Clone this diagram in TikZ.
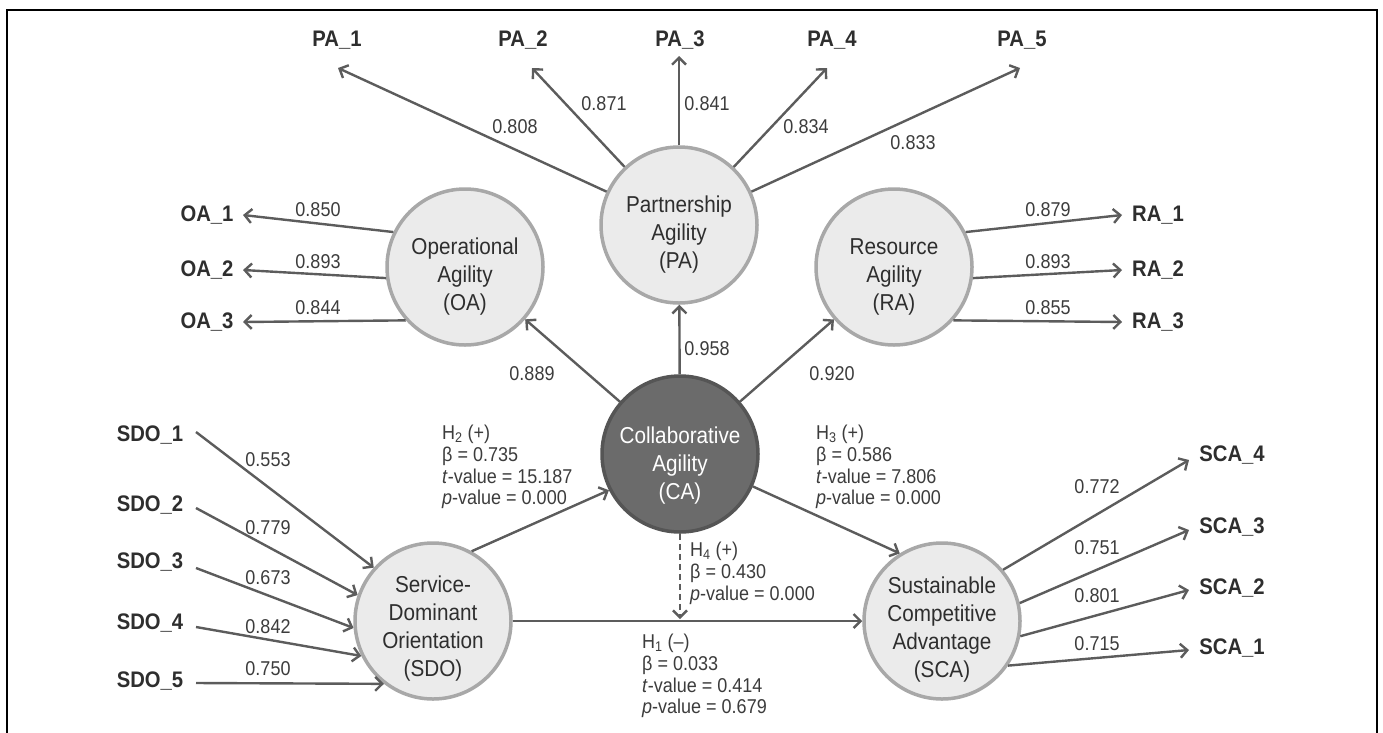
\documentclass[tikz,border=0pt]{standalone}
\usepackage{fontspec}
\setmainfont{Liberation Sans}[FakeStretch=0.9]
\usetikzlibrary{arrows.meta}
\definecolor{lnc}{HTML}{5C5C5C}
\definecolor{cfill}{HTML}{EBEBEB}
\definecolor{cborder}{HTML}{A8A8A8}
\definecolor{cafill}{HTML}{6B6B6B}
\definecolor{caborder}{HTML}{555555}
\definecolor{txt}{HTML}{2E2E2E}
\definecolor{numc}{HTML}{3C3C3C}
\tikzset{
  conn/.style={draw=lnc, line width=2.4pt, -{Straight Barb[length=7pt,width=14pt]}},
  dconn/.style={conn, dash pattern=on 6pt off 4pt},
  lat/.style={circle, draw=cborder, fill=cfill, line width=3.5pt, minimum size=156pt, inner sep=0pt},
  latca/.style={lat, draw=caborder, fill=cafill},
  ctext/.style={align=center, text=txt, font=\fontsize{23}{28}\selectfont},
  ind/.style={font=\fontsize{22.5}{25}\selectfont\bfseries, text=txt, inner sep=0pt},
  num/.style={font=\fontsize{20}{23}\selectfont, text=numc, inner sep=0pt},
  hyp/.style={font=\fontsize{20}{21.7}\selectfont, text=numc, align=left, inner sep=0pt, anchor=north west}
}
\begin{document}
\begin{tikzpicture}[x=1pt,y=-1pt]
\useasboundingbox (0,0) rectangle (1383,732);
% frame
\draw[line width=2.5pt] (7,750) -- (7,10) -- (1377,10) -- (1377,750);

% latent variables
\node[lat, label={[ctext,yshift=-10pt,name=PAt]center:{Partnership\\Agility\\(PA)}}] (PA) at (679,225) {};
\node[lat, label={[ctext,yshift=-10pt,name=OAt]center:{Operational\\Agility\\(OA)}}] (OA) at (465,267) {};
\node[lat, label={[ctext,yshift=-10pt,name=RAt]center:{Resource\\Agility\\(RA)}}] (RA) at (894,267) {};
\node[latca, label={[ctext,yshift=-12pt,text=white,name=CAt]center:{Collaborative\\Agility\\(CA)}}] (CA) at (680,454) {};
\node[lat, label={[ctext,yshift=-8pt,name=SDOt]center:{Service-\\Dominant\\Orientation\\(SDO)}}] (SDO) at (433,621) {};
\node[lat, label={[ctext,yshift=-9pt,name=SCAt]center:{Sustainable\\Competitive\\Advantage\\(SCA)}}] (SCA) at (942,621) {};

% PA indicators
\node[ind] (pa1) at (337,40) {PA\_1};
\node[ind] (pa2) at (523,40) {PA\_2};
\node[ind] (pa3) at (680,40) {PA\_3};
\node[ind] (pa4) at (832,40) {PA\_4};
\node[ind] (pa5) at (1022,40) {PA\_5};
\coordinate (p1t) at (338,68);
\coordinate (p2t) at (532,68);
\coordinate (p3t) at (679,56);
\coordinate (p4t) at (827,68);
\coordinate (p5t) at (1020,68);
\draw[conn] (PA) -- (p1t);
\draw[conn] (PA) -- (p2t);
\draw[conn] (PA) -- (p3t);
\draw[conn] (PA) -- (p4t);
\draw[conn] (PA) -- (p5t);
\node[num] (n808) at (515,127) {0.808};
\node[num] (n871) at (604,104) {0.871};
\node[num] (n841) at (707,104) {0.841};
\node[num] (n834) at (806,127) {0.834};
\node[num] (n833) at (913,143) {0.833};

% OA indicators
\node[ind] (oa1) at (207,215) {OA\_1};
\node[ind] (oa2) at (207,270) {OA\_2};
\node[ind] (oa3) at (207,322) {OA\_3};
\coordinate (o1t) at (243,215);
\coordinate (o2t) at (243,270);
\coordinate (o3t) at (243,322);
\draw[conn] (OA.154) -- (o1t);
\draw[conn] (OA.188) -- (o2t);
\draw[conn] (OA.222) -- (o3t);
\node[num] (n850) at (318,210) {0.850};
\node[num] (n893a) at (318,262) {0.893};
\node[num] (n844) at (318,308) {0.844};

% RA indicators
\node[ind] (ra1) at (1158,215) {RA\_1};
\node[ind] (ra2) at (1158,270) {RA\_2};
\node[ind] (ra3) at (1158,322) {RA\_3};
\coordinate (r1t) at (1122,215);
\coordinate (r2t) at (1122,270);
\coordinate (r3t) at (1122,322);
\draw[conn] (RA.26) -- (r1t);
\draw[conn] (RA.-8) -- (r2t);
\draw[conn] (RA.-42) -- (r3t);
\node[num] (n879) at (1048,210) {0.879};
\node[num] (n893b) at (1048,262) {0.893};
\node[num] (n855) at (1048,308) {0.855};

% CA to first-order
\draw[conn] (CA) -- (OA);
\draw[conn] (CA) -- (PA);
\draw[conn] (CA) -- (RA);
\node[num] (n889) at (532,374) {0.889};
\node[num] (n958) at (707,349) {0.958};
\node[num] (n920) at (832,374) {0.920};

% SDO indicators
\node[ind] (sdo1) at (150,435) {SDO\_1};
\node[ind] (sdo2) at (150,505) {SDO\_2};
\node[ind] (sdo3) at (150,562) {SDO\_3};
\node[ind] (sdo4) at (150,623) {SDO\_4};
\node[ind] (sdo5) at (150,681) {SDO\_5};
\coordinate (s1) at (196,432);
\coordinate (s2) at (196,508);
\coordinate (s3) at (196,568);
\coordinate (s4) at (196,627);
\coordinate (s5) at (196,683);
\draw[conn] (s1) -- (SDO.138);
\draw[conn] (s2) -- (SDO.161);
\draw[conn] (s3) -- (SDO.185);
\draw[conn] (s4) -- (SDO.206);
\draw[conn] (s5) -- (SDO.232);
\node[num] (n553) at (268,460) {0.553};
\node[num] (n779) at (268,528) {0.779};
\node[num] (n673) at (268,578) {0.673};
\node[num] (n842) at (268,627) {0.842};
\node[num] (n750) at (268,669) {0.750};

% SCA indicators
\node[ind] (sca4) at (1232,455) {SCA\_4};
\node[ind] (sca3) at (1232,527) {SCA\_3};
\node[ind] (sca2) at (1232,588) {SCA\_2};
\node[ind] (sca1) at (1232,648) {SCA\_1};
\coordinate (c4t) at (1189,460);
\coordinate (c3t) at (1189,530);
\coordinate (c2t) at (1189,590);
\coordinate (c1t) at (1189,650);
\draw[conn] (SCA.40) -- (c4t);
\draw[conn] (SCA.13) -- (c3t);
\draw[conn] (SCA.-11) -- (c2t);
\draw[conn] (SCA.-34) -- (c1t);
\node[num] (n772) at (1097,487) {0.772};
\node[num] (n751) at (1097,548) {0.751};
\node[num] (n801) at (1097,596) {0.801};
\node[num] (n715) at (1097,644) {0.715};

% structural paths
\draw[conn] (SDO.61) -- (CA.207);
\draw[conn] (CA.-24) -- (SCA.122);
\draw[conn] (SDO.east) -- (SCA.west);
\coordinate (h4t) at (680,619);
\draw[dconn] (CA.south) -- (h4t);

% hypothesis blocks
\node[hyp] (h2) at (442,425) {H\textsubscript{2} (+)\\β = 0.735\\\textit{t}-value = 15.187\\\textit{p}-value = 0.000};
\node[hyp] (h3) at (816,425) {H\textsubscript{3} (+)\\β = 0.586\\\textit{t}-value = 7.806\\\textit{p}-value = 0.000};
\node[hyp] (h4) at (690,542) {H\textsubscript{4} (+)\\β = 0.430\\\textit{p}-value = 0.000};
\node[hyp] (h1) at (642,634) {H\textsubscript{1} (–)\\β = 0.033\\\textit{t}-value = 0.414\\\textit{p}-value = 0.679};
\end{tikzpicture}
\end{document}
